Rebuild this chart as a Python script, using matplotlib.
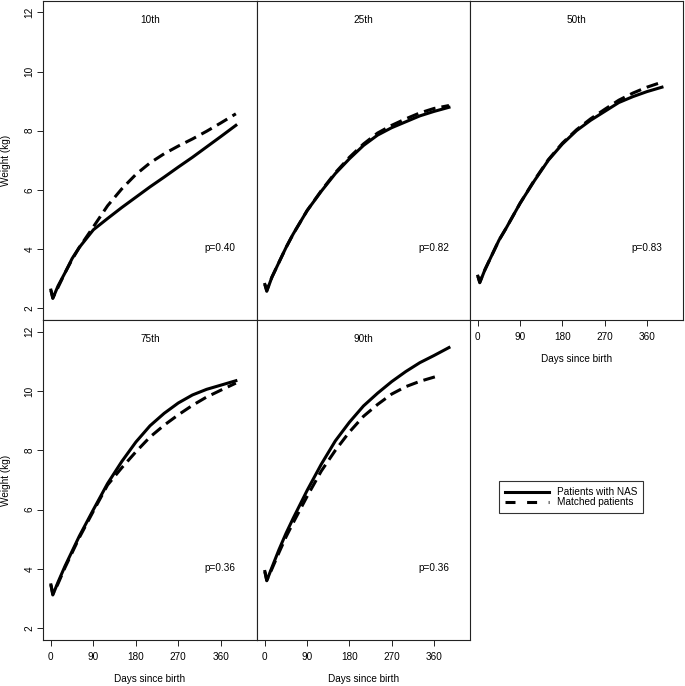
import matplotlib.pyplot as plt
from matplotlib.lines import Line2D

plt.rcParams['font.family'] = ['Liberation Sans', 'DejaVu Sans']
plt.rcParams['font.size'] = 7.2

days = [0, 4, 15, 30, 45, 60, 90, 120, 150, 180, 210, 240, 270, 300, 330, 360, 392]
days_90_matched = [0, 4, 15, 30, 45, 60, 90, 120, 150, 180, 210, 240, 270, 300, 330, 364]

nas_10 = [2.61, 2.33, 2.75, 3.2, 3.68, 4.05, 4.65, 5.03, 5.4, 5.75, 6.1, 6.43, 6.77, 7.1, 7.45, 7.8, 8.18]
matched_10 = [2.6, 2.35, 2.7, 3.2, 3.65, 4.05, 4.75, 5.46, 6.03, 6.52, 6.91, 7.22, 7.48, 7.72, 7.98, 8.26, 8.57]

nas_25 = [2.8, 2.57, 3.05, 3.55, 4.05, 4.5, 5.3, 5.95, 6.55, 7.05, 7.5, 7.85, 8.1, 8.3, 8.5, 8.65, 8.79]
matched_25 = [2.8, 2.6, 3.05, 3.55, 4.05, 4.5, 5.3, 5.97, 6.58, 7.1, 7.55, 7.92, 8.18, 8.4, 8.6, 8.75, 8.85]

nas_50 = [3.08, 2.86, 3.3, 3.8, 4.3, 4.7, 5.55, 6.3, 7.0, 7.55, 8.0, 8.35, 8.65, 8.95, 9.15, 9.32, 9.47]
matched_50 = [3.08, 2.88, 3.3, 3.8, 4.3, 4.7, 5.55, 6.32, 7.02, 7.58, 8.03, 8.4, 8.72, 9.03, 9.27, 9.47, 9.64]

nas_75 = [3.46, 3.12, 3.55, 4.1, 4.6, 5.1, 6.0, 6.88, 7.62, 8.28, 8.83, 9.25, 9.6, 9.87, 10.06, 10.2, 10.35]
matched_75 = [3.46, 3.15, 3.5, 4.05, 4.55, 5.05, 5.95, 6.83, 7.41, 7.95, 8.45, 8.85, 9.2, 9.52, 9.8, 10.03, 10.27]

nas_90 = [3.91, 3.6, 4.05, 4.65, 5.2, 5.7, 6.65, 7.53, 8.32, 8.95, 9.5, 9.93, 10.32, 10.66, 10.96, 11.2, 11.47]
matched_90 = [3.9, 3.62, 4.0, 4.55, 5.08, 5.55, 6.45, 7.3, 8.0, 8.62, 9.15, 9.55, 9.9, 10.15, 10.33, 10.49]

titles = ['10th', '25th', '50th', '75th', '90th']
p_values = ['p=0.40', 'p=0.82', 'p=0.83', 'p=0.36', 'p=0.36']
x_ticks = [0, 90, 180, 270, 360]
y_ticks = [2, 4, 6, 8, 10, 12]

panels = [
    (days, nas_10, days, matched_10),
    (days, nas_25, days, matched_25),
    (days, nas_50, days, matched_50),
    (days, nas_75, days, matched_75),
    (days, nas_90, days_90_matched, matched_90),
]

W, H = 685, 686
fig = plt.figure(figsize=(W / 100, H / 100), dpi=100)

# panel boxes in pixels: (left, top, right, bottom)
boxes = [(43, 0.5, 257, 320), (257, 0.5, 470, 320), (470, 0.5, 683, 320),
         (43, 320, 257, 640), (257, 320, 470, 640)]

LW = 2.2
dash = (0, (3.9, 2.0))

for i, (box, (dx1, y1, dx2, y2)) in enumerate(zip(boxes, panels)):
    l, t, r, b = box
    ax = fig.add_axes([l / W, 1 - b / H, (r - l) / W, (b - t) / H])
    ax.plot(dx1, y1, color='black', lw=LW, solid_joinstyle='round')
    ax.plot(dx2, y2, color='black', lw=LW, linestyle=dash)
    ax.set_xlim(-16.8, 436.8)
    ax.set_ylim(1.6, 12.4)
    for s in ax.spines.values():
        s.set_linewidth(0.8)
        s.set_color('#222222')
    ax.text(0.5, 0.94, titles[i], transform=ax.transAxes, ha='center', va='center')
    ax.text(392, 4.02, p_values[i], ha='right', va='center')

    ax.tick_params(direction='out', length=4, width=0.7, color='#222222')
    if i in (0, 3):
        ax.set_yticks(y_ticks)
        ax.tick_params(axis='y', labelrotation=90, pad=2)
        for lbl in ax.get_yticklabels():
            lbl.set_va('center')
        ax.set_ylabel('Weight (kg)', va='center')
        ax.yaxis.set_label_coords(-0.172, 0.5)
    else:
        ax.set_yticks([])
    if i in (2, 3, 4):
        ax.set_xticks(x_ticks)
        ax.tick_params(axis='x', pad=4.5)
        ax.set_xlabel('Days since birth', va='center')
        ax.xaxis.set_label_coords(0.5, -0.122)
    else:
        ax.set_xticks([])

handles = [Line2D([], [], color='black', lw=LW),
           Line2D([], [], color='black', lw=LW, linestyle=(0, (3.27, 3.8)))]
leg = fig.legend(handles, ['Patients with NAS', 'Matched patients'],
                 loc='center', bbox_to_anchor=(571 / W, 1 - 497 / H),
                 frameon=True, fancybox=False, edgecolor='black',
                 handlelength=4.4, handletextpad=0.8, labelspacing=0.0,
                 borderpad=0.6, fontsize=7.2)
leg.get_frame().set_linewidth(0.8)

fig.savefig('out.png', dpi=100)
